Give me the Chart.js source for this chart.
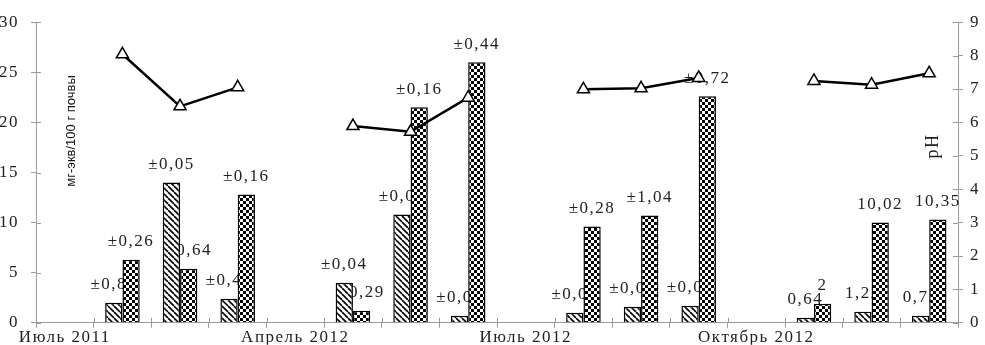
<!DOCTYPE html>
<html>
<head>
<meta charset="utf-8">
<script src="https://cdn.jsdelivr.net/npm/chart.js@4/dist/chart.umd.min.js"></script>
<style>
  html, body { margin: 0; padding: 0; background: #fff; }
  #wrap { width: 985px; height: 345px; position: relative; }
</style>
</head>
<body>
<div id="wrap"><canvas id="chart"></canvas></div>
<script>
// категории (подписи только у начала каждого сезона)
const cats = ['Июль 2011', '', '', '', 'Апрель 2012', '', '', '', 'Июль 2012', '', '', '', 'Октябрь 2012', '', '', ''];

// мг-экв/100 г почвы
const hatchVals = [null, 2.0, 14.0, 2.4, null, 4.0, 10.8, 0.7, null, 1.0, 1.6, 1.7, null, 0.5, 1.1, 0.7];
const checkVals = [null, 6.3, 5.4, 12.8, null, 1.2, 21.5, 26.0, null, 9.6, 10.7, 22.6, null, 1.9, 10.0, 10.3];

// pH (правая ось)
const phVals = [null, 8.04, 6.48, 7.05, null, 5.89, 5.72, 6.74, null, 6.99, 7.02, 7.33, null, 7.24, 7.13, 7.47];

// подписи над столбиками
const hatchLabels = ['', '±0,87', '±0,05', '±0,48', '', '±0,04', '±0,02', '±0,07', '', '±0,02', '±0,08', '±0,02', '', '0,64', '1,22', '0,75'];
const checkLabels = ['', '±0,26', '±0,64', '±0,16', '', '±0,29', '±0,16', '±0,44', '', '±0,28', '±1,04', '±0,72', '', '2', '10,02', '10,35'];

const serif = '"Liberation Serif", "DejaVu Serif", serif';
const axisColor = '#9a9a9a';

function makeHatch() {
    const s = 6;
    const c = document.createElement('canvas');
    c.width = s; c.height = s;
    const g = c.getContext('2d');
    g.fillStyle = '#fff';
    g.fillRect(0, 0, s, s);
    g.strokeStyle = '#000';
    g.lineWidth = 1.6;
    for (const k of [-s, 0, s]) {
        g.beginPath();
        g.moveTo(k, 0);
        g.lineTo(k + s, s);
        g.stroke();
    }
    return g.createPattern(c, 'repeat');
}

function makeCheck() {
    const s = 6;
    const c = document.createElement('canvas');
    c.width = s; c.height = s;
    const g = c.getContext('2d');
    g.fillStyle = '#fff';
    g.fillRect(0, 0, s, s);
    g.fillStyle = '#000';
    g.fillRect(0, 0, 3, 3);
    g.fillRect(3, 3, 3, 3);
    return g.createPattern(c, 'repeat');
}

// шрифт в оригинале заметно разрежен
const spacing = {
    id: 'spacing',
    beforeDraw(chart) { chart.ctx.letterSpacing = '1.5px'; }
};

// внутренние половинки засечек (в оригинале засечки пересекают оси)
const innerTicks = {
    id: 'innerTicks',
    afterDraw(chart) {
        const ctx = chart.ctx;
        const { x, y, y1 } = chart.scales;
        ctx.save();
        ctx.strokeStyle = axisColor;
        ctx.lineWidth = 1;
        ctx.beginPath();
        y.ticks.forEach((t, i) => {
            const py = Math.round(y.getPixelForTick(i)) + 0.5;
            ctx.moveTo(y.right, py); ctx.lineTo(y.right + 5, py);
        });
        y1.ticks.forEach((t, i) => {
            const py = Math.round(y1.getPixelForTick(i)) + 0.5;
            ctx.moveTo(y1.left - 5, py); ctx.lineTo(y1.left, py);
        });
        const half = (x.getPixelForValue(1) - x.getPixelForValue(0)) / 2;
        for (let i = 0; i <= cats.length; i++) {
            const px = Math.round(x.getPixelForValue(i) - half) + 0.5;
            ctx.moveTo(px, x.top - 5); ctx.lineTo(px, x.top);
        }
        ctx.stroke();
        ctx.restore();
    }
};

// подписи значений — рисуются до столбиков, чтобы столбики их частично перекрывали
const barLabels = {
    id: 'barLabels',
    beforeDatasetsDraw(chart) {
        const ctx = chart.ctx;
        ctx.save();
        ctx.font = '17px ' + serif;
        ctx.fillStyle = '#222';
        ctx.textAlign = 'center';
        ctx.textBaseline = 'middle';
        [[0, hatchLabels], [1, checkLabels]].forEach(([di, texts]) => {
            chart.getDatasetMeta(di).data.forEach((bar, i) => {
                if (!texts[i]) return;
                ctx.fillText(texts[i], bar.x, bar.y - 18);
            });
        });
        ctx.restore();
    }
};

// названия осей внутри области графика
const axisTitles = {
    id: 'axisTitles',
    afterDraw(chart) {
        const ctx = chart.ctx;
        ctx.save();
        ctx.letterSpacing = '0px';
        ctx.fillStyle = '#111';
        ctx.textAlign = 'center';
        ctx.textBaseline = 'middle';
        ctx.translate(71, 131);
        ctx.rotate(-Math.PI / 2);
        ctx.font = '13px "Liberation Sans", Arial, sans-serif';
        ctx.fillText('мг-экв/100 г почвы', 0, 0);
        ctx.restore();

        ctx.save();
        ctx.fillStyle = '#222';
        ctx.textAlign = 'center';
        ctx.textBaseline = 'middle';
        ctx.translate(933, 146);
        ctx.rotate(-Math.PI / 2);
        ctx.font = '18px ' + serif;
        ctx.fillText('pH', 0, 0);
        ctx.restore();
    }
};

new Chart(document.getElementById('chart'), {
    type: 'bar',
    data: {
        labels: cats,
        datasets: [{
            label: 'hatch',
            data: hatchVals,
            backgroundColor: makeHatch(),
            borderColor: '#000',
            borderWidth: 1.5,
            categoryPercentage: 0.6,
            barPercentage: 1.0,
            yAxisID: 'y',
            order: 1
        }, {
            label: 'check',
            data: checkVals,
            backgroundColor: makeCheck(),
            borderColor: '#000',
            borderWidth: 1.5,
            categoryPercentage: 0.6,
            barPercentage: 1.0,
            yAxisID: 'y',
            order: 1
        }, {
            type: 'line',
            label: 'pH',
            data: phVals,
            borderColor: '#000',
            borderWidth: 2.5,
            spanGaps: false,
            pointStyle: 'triangle',
            pointRadius: 7,
            pointBackgroundColor: '#fff',
            pointBorderColor: '#000',
            pointBorderWidth: 1.5,
            yAxisID: 'y1',
            order: 0
        }]
    },
    options: {
        responsive: true,
        maintainAspectRatio: false,
        animation: false,
        layout: { autoPadding: false, padding: { top: 5, left: 0, right: 0, bottom: 0 } },
        plugins: {
            legend: { display: false },
            tooltip: { enabled: false }
        },
        scales: {
            x: {
                offset: true,
                grid: { display: true, drawOnChartArea: false, offset: true, tickLength: 5, color: axisColor },
                border: { color: axisColor, width: 1 },
                ticks: { autoSkip: false, maxRotation: 0, padding: 0, color: '#222', font: { family: serif, size: 17 } },
                afterFit(scale) { scale.height = 22; }
            },
            y: {
                position: 'left',
                min: 0, max: 30,
                ticks: { stepSize: 5, padding: 12, color: '#222', font: { family: serif, size: 17 } },
                grid: { display: true, drawOnChartArea: false, tickLength: 5, color: axisColor },
                border: { color: axisColor, width: 1 },
                afterFit(scale) { scale.width = 36; }
            },
            y1: {
                position: 'right',
                min: 0, max: 9,
                ticks: { stepSize: 1, padding: 7, color: '#222', font: { family: serif, size: 17 } },
                grid: { display: true, drawOnChartArea: false, tickLength: 5, color: axisColor },
                border: { color: axisColor, width: 1 },
                afterFit(scale) { scale.width = 27; }
            }
        }
    },
    plugins: [spacing, innerTicks, barLabels, axisTitles]
});
</script>
</body>
</html>
